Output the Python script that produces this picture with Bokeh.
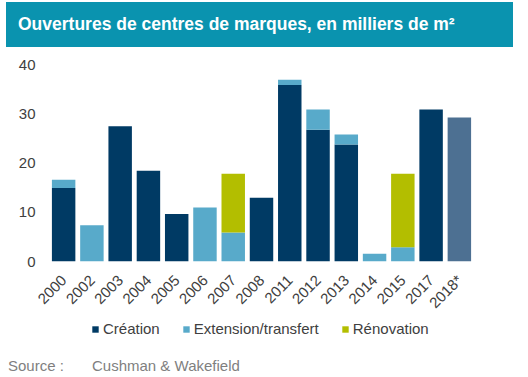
from bokeh.plotting import figure
from bokeh.models import ColumnDataSource, FactorRange, Range1d, FixedTicker, Legend, LegendItem, Div
from bokeh.layouts import column
from bokeh.embed import file_html
from bokeh.resources import INLINE

# ---- data ----
years = ["2000", "2002", "2003", "2004", "2005", "2006", "2007", "2008",
         "2011", "2012", "2013", "2014", "2015", "2017", "2018*"]
creation = [15.0, 0, 27.6, 18.5, 9.7, 0, 0, 13.0, 36.0, 26.9, 23.9, 0, 0, 31.0, 29.4]
extension = [1.7, 7.4, 0, 0, 0, 11.0, 5.9, 0, 1.1, 4.1, 2.0, 1.6, 2.9, 0, 0]
renovation = [0, 0, 0, 0, 0, 0, 12.0, 0, 0, 0, 0, 0, 15.0, 0, 0]
y_ticks = [0, 10, 20, 30, 40]
forecast_year = "2018*"

title_text = "Ouvertures de centres de marques, en milliers de m²"
series_names = ["Création", "Extension/transfert", "Rénovation"]

# ---- styles ----
C_CREATION = "#003A64"
C_EXTENSION = "#58AACA"
C_RENOVATION = "#B3BE00"
C_FORECAST = "#4D7092"
C_TITLE = "#0A93AF"
FONT = "Liberation Sans"

e_bottom = list(creation)
e_top = [c + e for c, e in zip(creation, extension)]
r_top = [t + r for t, r in zip(e_top, renovation)]
c_colors = [C_FORECAST if y == forecast_year else C_CREATION for y in years]

src = ColumnDataSource(dict(x=years, c_top=creation, e_bottom=e_bottom, e_top=e_top,
                            r_top=r_top, c_color=c_colors))

p = figure(x_range=FactorRange(factors=years, range_padding=0, factor_padding=0),
           y_range=Range1d(0, 41.02), width=528, height=270,
           output_backend="svg", toolbar_location=None,
           min_border_left=49, min_border_right=55, min_border_top=10, min_border_bottom=59)
p.outline_line_color = None
p.xgrid.visible = False
p.ygrid.visible = False

W = 0.83
p.vbar(x="x", bottom=0, top="c_top", width=W, fill_color="c_color", line_color=None, source=src)
p.vbar(x="x", bottom="e_bottom", top="e_top", width=W, fill_color=C_EXTENSION, line_color=None, source=src)
p.vbar(x="x", bottom="e_top", top="r_top", width=W, fill_color=C_RENOVATION, line_color=None, source=src)

p.yaxis.ticker = FixedTicker(ticks=y_ticks)
for ax in (p.xaxis[0], p.yaxis[0]):
    ax.axis_line_color = None
    ax.major_tick_line_color = None
    ax.minor_tick_line_color = None
    ax.major_tick_out = 0
    ax.major_label_text_font = FONT
    ax.major_label_text_font_size = "15px"
    ax.major_label_text_color = "#404040"
p.yaxis.major_label_standoff = 14
p.xaxis.major_label_orientation = 0.785398
p.xaxis.major_label_standoff = 16

# ---- legend strip: a small figure whose series lie outside its visible range ----
lg = figure(width=528, height=30, x_range=p.x_range, y_range=Range1d(1000, 1001),
            output_backend="svg", toolbar_location=None, min_border=0)
lg.axis.visible = False
lg.grid.visible = False
lg.outline_line_color = None
k1 = lg.vbar(x="x", bottom=0, top="c_top", width=W, fill_color=C_CREATION, line_color=None, source=src)
k2 = lg.vbar(x="x", bottom="e_bottom", top="e_top", width=W, fill_color=C_EXTENSION, line_color=None, source=src)
k3 = lg.vbar(x="x", bottom="e_top", top="r_top", width=W, fill_color=C_RENOVATION, line_color=None, source=src)
legend = Legend(items=[LegendItem(label=series_names[0], renderers=[k1]),
                       LegendItem(label=series_names[1], renderers=[k2]),
                       LegendItem(label=series_names[2], renderers=[k3])],
                orientation="horizontal", location=(42, 13),
                label_text_font=FONT, label_text_font_size="15px", label_text_color="#404040",
                glyph_width=8, glyph_height=8, label_standoff=4, spacing=22,
                padding=0, margin=0, border_line_color=None, background_fill_alpha=0)
lg.add_layout(legend, "center")

title_div = Div(text=(
    f'<div style="position:absolute;left:6px;top:2px;width:507px;height:45px;'
    f'box-sizing:border-box;padding-left:12px;background:{C_TITLE};color:white;'
    f'font-family:\'{FONT}\';font-weight:bold;font-size:17.5px;line-height:45px;'
    f'white-space:nowrap;">{title_text}</div>'),
    width=528, height=50, margin=0)

source_div = Div(text=(
    f'<div style="position:relative;width:528px;height:27px;font-family:\'{FONT}\';'
    f'font-size:15px;color:#7F7F7F;">'
    f'<span style="position:absolute;left:8px;top:5px;white-space:nowrap;">Source :</span>'
    f'<span style="position:absolute;left:92px;top:5px;white-space:nowrap;">Cushman &amp; Wakefield</span>'
    f'</div>'),
    width=528, height=27, margin=0)

layout = column(title_div, p, lg, source_div, spacing=0)
open("out.html", "w").write(file_html(layout, INLINE))
